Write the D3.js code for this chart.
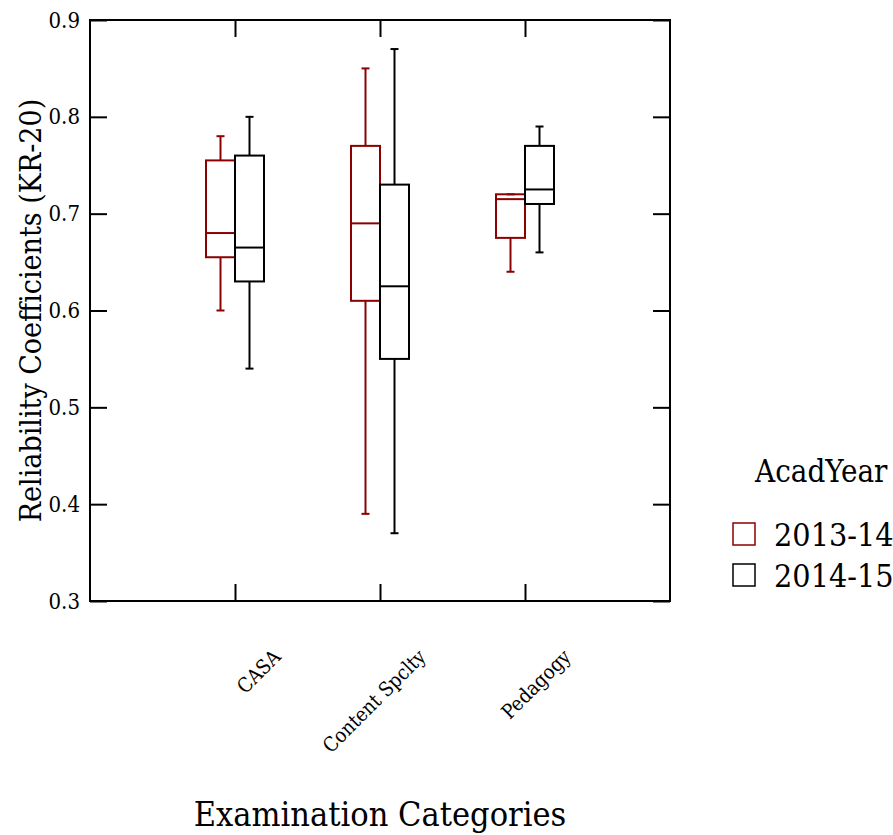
<!DOCTYPE html>
<html lang="en">
<head>
    <meta charset="UTF-8">
    <title>Reliability Coefficients by Examination Category</title>
    <script src="https://d3js.org/d3.v7.min.js"></script>
    <style>
        body { margin: 0; background: #fff; }
        svg text { font-family: "DejaVu Serif Condensed", "DejaVu Serif", serif; fill: #000; }
        .axis path { display: none; }
        .axis line { stroke: #000; stroke-width: 2; }
    </style>
</head>
<body>
    <div id="chart"></div>

    <script>
        // categories and groups
        const categories = ["CASA", "Content Spclty", "Pedagogy"];
        const years = ["2013-14", "2014-15"];
        const yTicks = [0.3, 0.4, 0.5, 0.6, 0.7, 0.8, 0.9];

        // box stats (one value per category)
        const lower2013  = [0.600, 0.390, 0.640];
        const q1_2013    = [0.655, 0.610, 0.675];
        const median2013 = [0.680, 0.690, 0.715];
        const q3_2013    = [0.755, 0.770, 0.720];
        const upper2013  = [0.780, 0.850, 0.720];

        const lower2014  = [0.540, 0.370, 0.660];
        const q1_2014    = [0.630, 0.550, 0.710];
        const median2014 = [0.665, 0.625, 0.725];
        const q3_2014    = [0.760, 0.730, 0.770];
        const upper2014  = [0.800, 0.870, 0.790];

        const colors = ["#8b0000", "#000000"];

        // build box records
        const stats = [
            [lower2013, q1_2013, median2013, q3_2013, upper2013],
            [lower2014, q1_2014, median2014, q3_2014, upper2014]
        ];
        const boxes = [];
        categories.forEach((cat, i) => {
            years.forEach((yr, j) => {
                const s = stats[j];
                boxes.push({ cat, i, yr, lo: s[0][i], q1: s[1][i], med: s[2][i], q3: s[3][i], hi: s[4][i] });
            });
        });

        const width = 893, height = 835;
        const margin = { top: 20, right: 223, bottom: 234, left: 90 };
        const pw = width - margin.left - margin.right;
        const ph = height - margin.top - margin.bottom;

        const svg = d3.select("#chart").append("svg")
            .attr("width", width)
            .attr("height", height);

        const g = svg.append("g")
            .attr("transform", `translate(${margin.left},${margin.top})`);

        const x = d3.scaleLinear().domain([0, categories.length + 1]).range([0, pw]);
        const inner = d3.scaleBand().domain(years).range([-29, 29]);
        const y = d3.scaleLinear().domain([0.3, 0.9]).range([ph, 0]);

        // axes, ticks pointing inward
        const tk = 17;
        g.append("g").attr("class", "axis")
            .call(d3.axisLeft(y).tickValues(yTicks).tickSizeInner(-tk).tickSizeOuter(0).tickPadding(10).tickFormat(d3.format(".1f")))
            .selectAll("text").style("font-size", "22px");
        g.append("g").attr("class", "axis")
            .attr("transform", `translate(${pw},0)`)
            .call(d3.axisRight(y).tickValues(yTicks).tickSizeInner(-tk).tickSizeOuter(0).tickFormat(""));
        const catTicks = categories.map((c, i) => i + 1);
        g.append("g").attr("class", "axis")
            .attr("transform", `translate(0,${ph})`)
            .call(d3.axisBottom(x).tickValues(catTicks).tickSizeInner(-tk).tickSizeOuter(0).tickFormat(""));
        g.append("g").attr("class", "axis")
            .call(d3.axisTop(x).tickValues(catTicks).tickSizeInner(-tk).tickSizeOuter(0).tickFormat(""));

        // frame
        g.append("rect")
            .attr("width", pw).attr("height", ph)
            .attr("fill", "none").attr("stroke", "#000").attr("stroke-width", 2);

        // rotated category labels
        g.selectAll(".catlab")
            .data(categories)
            .enter().append("text")
            .attr("class", "catlab")
            .attr("transform", (d, i) => `translate(${x(i + 1) + 47},${ph + 57}) rotate(-45)`)
            .attr("text-anchor", "end")
            .style("font-size", "20px")
            .text(d => d);

        // boxes
        const bg = g.selectAll(".box")
            .data(boxes)
            .enter().append("g")
            .attr("class", "box")
            .attr("stroke", d => colors[years.indexOf(d.yr)])
            .attr("stroke-width", 2)
            .attr("fill", "none");

        const cx = d => x(d.i + 1) + inner(d.yr) + inner.bandwidth() / 2;

        bg.append("line")
            .attr("x1", cx).attr("x2", cx)
            .attr("y1", d => y(d.hi)).attr("y2", d => y(d.q3));
        bg.append("line")
            .attr("x1", cx).attr("x2", cx)
            .attr("y1", d => y(d.q1)).attr("y2", d => y(d.lo));
        bg.append("line")
            .attr("x1", d => cx(d) - 4).attr("x2", d => cx(d) + 4)
            .attr("y1", d => y(d.hi)).attr("y2", d => y(d.hi));
        bg.append("line")
            .attr("x1", d => cx(d) - 4).attr("x2", d => cx(d) + 4)
            .attr("y1", d => y(d.lo)).attr("y2", d => y(d.lo));
        bg.append("rect")
            .attr("x", d => x(d.i + 1) + inner(d.yr))
            .attr("width", inner.bandwidth())
            .attr("y", d => y(d.q3))
            .attr("height", d => y(d.q1) - y(d.q3));
        bg.append("line")
            .attr("x1", d => x(d.i + 1) + inner(d.yr))
            .attr("x2", d => x(d.i + 1) + inner(d.yr) + inner.bandwidth())
            .attr("y1", d => y(d.med)).attr("y2", d => y(d.med));

        // axis titles
        svg.append("text")
            .attr("transform", `translate(41,${margin.top + ph / 2}) rotate(-90)`)
            .attr("text-anchor", "middle")
            .style("font-size", "30px")
            .text("Reliability Coefficients (KR-20)");
        svg.append("text")
            .attr("x", margin.left + pw / 2)
            .attr("y", 826)
            .attr("text-anchor", "middle")
            .style("font-size", "34px")
            .text("Examination Categories");

        // legend
        const lg = svg.append("g").attr("transform", "translate(732,0)");
        lg.append("text")
            .attr("x", 23).attr("y", 482)
            .style("font-size", "31px")
            .text("AcadYear");
        const items = lg.selectAll(".item")
            .data(years)
            .enter().append("g")
            .attr("transform", (d, i) => `translate(0,${522 + i * 41})`);
        items.append("rect")
            .attr("x", 1).attr("y", 1)
            .attr("width", 22).attr("height", 22)
            .attr("fill", "none")
            .attr("stroke", (d, i) => colors[i])
            .attr("stroke-width", 1.5);
        items.append("text")
            .attr("x", 42).attr("y", 24)
            .style("font-size", "32px")
            .text(d => d);
    </script>
</body>
</html>
